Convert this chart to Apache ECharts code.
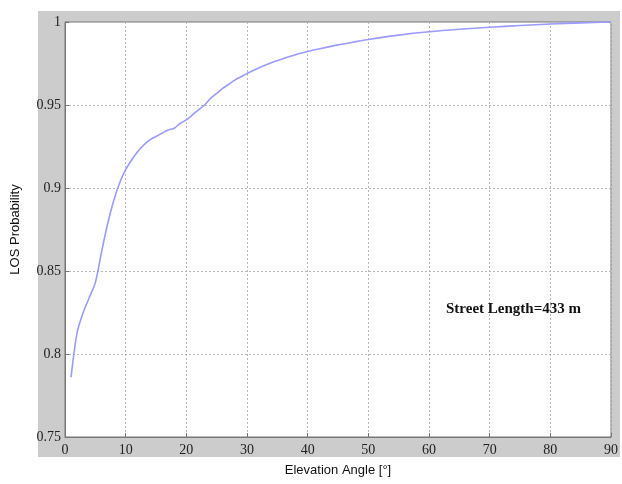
<!DOCTYPE html>
<html>
<head>
<meta charset="utf-8">
<script src="https://cdn.jsdelivr.net/npm/echarts@6/dist/echarts.min.js"></script>
<style>
  html, body { margin: 0; padding: 0; background: #fff; }
  #chart { width: 622px; height: 484px; }
</style>
</head>
<body>
<div id="chart"></div>
<script>
// elevation angle (deg) and LOS probability
var angles = [1, 2, 3, 4, 5, 6, 7, 8, 9, 10, 11, 12, 13, 14, 15, 16, 17, 18, 19, 20,
  21, 22, 23, 24, 25, 26, 27, 28, 29, 30, 32, 34, 36, 38, 40, 42, 45, 48, 50,
  55, 60, 65, 70, 75, 80, 85, 90];
var losProb = [0.786, 0.813, 0.825, 0.834, 0.843, 0.861, 0.878, 0.892, 0.903, 0.911,
  0.917, 0.922, 0.926, 0.929, 0.931, 0.933, 0.935, 0.936, 0.939, 0.941,
  0.944, 0.947, 0.950, 0.954, 0.957, 0.960, 0.9625, 0.965, 0.967, 0.969,
  0.9725, 0.9755, 0.978, 0.9803, 0.9822, 0.9839, 0.9862, 0.9882, 0.9895,
  0.9921, 0.9941, 0.9956, 0.9968, 0.9979, 0.9988, 0.9995, 1.0];
var note = 'Street Length=433 m';

var chart = echarts.init(document.getElementById('chart'));

var tickFont = { fontFamily: 'Liberation Serif', fontSize: 14, color: '#222' };
var gridLine = { show: true, lineStyle: { color: '#b8b8b8', type: [2, 2], width: 1 } };

var option = {
  animation: false,
  graphic: [
    // matlab grey figure background
    { type: 'rect', z: -10, shape: { x: 38, y: 11, width: 582, height: 446 }, style: { fill: '#cccccc' } },
    { type: 'text', left: 446, top: 302, z: 100,
      style: { text: note, font: 'bold 15px "Liberation Serif"', fill: '#111' } }
  ],
  grid: {
    left: 65, top: 22, right: 11, bottom: 47,
    show: true, backgroundColor: '#fff', borderColor: '#777', borderWidth: 1
  },
  xAxis: {
    type: 'value', min: 0, max: 90, interval: 10,
    name: 'Elevation Angle [°]', nameLocation: 'middle', nameGap: 27,
    nameTextStyle: { fontFamily: 'Liberation Sans', fontSize: 13, color: '#111' },
    axisLine: { show: true, onZero: false, lineStyle: { color: '#777' } },
    axisTick: { show: true, inside: true, length: 4, lineStyle: { color: '#777' } },
    axisLabel: Object.assign({ margin: 6 }, tickFont),
    splitLine: gridLine
  },
  yAxis: {
    type: 'value', min: 0.75, max: 1, interval: 0.05,
    name: 'LOS Probability', nameLocation: 'middle', nameGap: 43,
    nameTextStyle: { fontFamily: 'Liberation Sans', fontSize: 13, color: '#111' },
    axisLine: { show: true, lineStyle: { color: '#777' } },
    axisTick: { show: true, inside: true, length: 4, lineStyle: { color: '#777' } },
    axisLabel: Object.assign({ margin: 4, formatter: function (v) { return +v.toFixed(2) + ''; } }, tickFont),
    splitLine: gridLine
  },
  series: [{
    type: 'line',
    data: angles.map(function (a, i) { return [a, losProb[i]]; }),
    showSymbol: false,
    smooth: 0.3,
    lineStyle: { color: '#9a9aff', width: 1.6 }
  }]
};
chart.setOption(option);
</script>
</body>
</html>
